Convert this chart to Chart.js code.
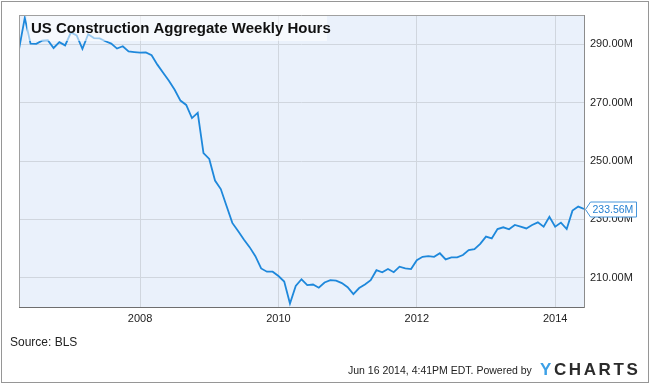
<!DOCTYPE html>
<html>
<head>
<meta charset="utf-8">
<script src="https://cdn.jsdelivr.net/npm/chart.js@4"></script>
<style>
html,body{margin:0;padding:0;background:#fff;}
#wrap{width:650px;height:384px;position:relative;}
</style>
</head>
<body>
<div id="wrap"><canvas id="c" width="650" height="384"></canvas></div>
<script>
const titleText = 'US Construction Aggregate Weekly Hours';
const sourceText = 'Source: BLS';
const footerText = 'Jun 16 2014, 4:41PM EDT. Powered by';
const lastLabel = '233.56M';

const months = [
  '2006-03','2006-04','2006-05','2006-06','2006-07','2006-08','2006-09','2006-10','2006-11','2006-12',
  '2007-01','2007-02','2007-03','2007-04','2007-05','2007-06','2007-07','2007-08','2007-09','2007-10','2007-11','2007-12',
  '2008-01','2008-02','2008-03','2008-04','2008-05','2008-06','2008-07','2008-08','2008-09','2008-10','2008-11','2008-12',
  '2009-01','2009-02','2009-03','2009-04','2009-05','2009-06','2009-07','2009-08','2009-09','2009-10','2009-11','2009-12',
  '2010-01','2010-02','2010-03','2010-04','2010-05','2010-06','2010-07','2010-08','2010-09','2010-10','2010-11','2010-12',
  '2011-01','2011-02','2011-03','2011-04','2011-05','2011-06','2011-07','2011-08','2011-09','2011-10','2011-11','2011-12',
  '2012-01','2012-02','2012-03','2012-04','2012-05','2012-06','2012-07','2012-08','2012-09','2012-10','2012-11','2012-12',
  '2013-01','2013-02','2013-03','2013-04','2013-05','2013-06','2013-07','2013-08','2013-09','2013-10','2013-11','2013-12',
  '2014-01','2014-02','2014-03','2014-04','2014-05'
];

const hours = [
  288.2,299.0,290.2,290.1,291.2,291.4,288.7,290.7,289.6,294.0,
  293.0,288.4,293.4,292.1,292.0,291.0,290.2,288.5,289.3,287.5,287.3,287.1,
  287.2,286.2,283.0,280.2,277.5,274.4,270.7,269.2,264.7,266.5,252.7,250.7,
  243.3,240.4,234.6,228.8,226.0,223.1,220.5,217.4,213.2,212.1,212.1,210.6,
  208.7,201.2,207.2,209.5,207.5,207.7,206.6,208.4,209.2,209.0,208.2,206.8,
  204.4,206.5,207.7,209.2,212.6,211.9,213.0,211.9,213.8,213.2,213.0,216.0,
  217.2,217.4,217.2,218.4,216.3,217.0,217.0,217.8,219.5,219.8,221.6,224.1,
  223.5,226.7,227.3,226.6,228.1,227.5,226.9,228.1,229.0,227.5,230.9,227.5,
  228.9,226.7,233.0,234.4,233.56
];

const yTicks = [210, 230, 250, 270, 290];
const xTicks = [2008, 2010, 2012, 2014];

// month label -> decimal year (end of month)
const xs = months.map(m => { const p = m.split('-'); return parseInt(p[0]) + parseInt(p[1]) / 12; });
const points = xs.map((x, i) => ({ x: x, y: hours[i] }));

const FONT = '"Liberation Sans", Arial, sans-serif';
const LINE = 'rgb(30,136,219)';

const decor = {
  id: 'decor',
  beforeDraw(chart) {
    const ctx = chart.ctx, a = chart.chartArea;
    ctx.save();
    ctx.fillStyle = '#fff';
    ctx.fillRect(0, 0, chart.width, chart.height);
    ctx.fillStyle = 'rgb(234,241,251)';
    ctx.fillRect(a.left, a.top, a.right - a.left, a.bottom - a.top);
    ctx.strokeStyle = 'rgb(150,150,150)';
    ctx.lineWidth = 1;
    ctx.strokeRect(1.5, 1.5, chart.width - 3, chart.height - 3);
    ctx.restore();
  },
  afterDatasetsDraw(chart) {
    const ctx = chart.ctx, a = chart.chartArea;
    ctx.save();
    ctx.strokeStyle = 'rgb(160,160,160)';
    ctx.lineWidth = 1;
    ctx.beginPath();
    ctx.moveTo(a.left + 0.5, a.top);
    ctx.lineTo(a.left + 0.5, a.bottom);
    ctx.moveTo(a.left, a.top + 0.5);
    ctx.lineTo(a.right, a.top + 0.5);
    ctx.stroke();
    // title with translucent backdrop
    ctx.fillStyle = 'rgba(255,255,255,0.55)';
    ctx.fillRect(27, a.top + 1, 300, 25);
    ctx.fillStyle = '#111';
    ctx.font = 'bold 15px ' + FONT;
    ctx.textBaseline = 'middle';
    ctx.textAlign = 'left';
    ctx.fillText(titleText, 31, 29);
    // last value callout
    const ys = chart.scales.y;
    const yv = ys.getPixelForValue(hours[hours.length - 1]);
    const bx = 590, bw = 46, bh = 15;
    ctx.beginPath();
    ctx.moveTo(585.5, yv + 0.5);
    ctx.lineTo(bx + 0.5, yv - bh / 2 + 0.5);
    ctx.lineTo(bx + bw + 0.5, yv - bh / 2 + 0.5);
    ctx.lineTo(bx + bw + 0.5, yv + bh / 2 + 0.5);
    ctx.lineTo(bx + 0.5, yv + bh / 2 + 0.5);
    ctx.closePath();
    ctx.fillStyle = '#fff';
    ctx.fill();
    ctx.strokeStyle = 'rgb(70,150,220)';
    ctx.stroke();
    ctx.fillStyle = 'rgb(40,130,210)';
    ctx.font = '10.5px ' + FONT;
    ctx.fillText(lastLabel, bx + 2.5, yv + 1);
    ctx.restore();
  },
  afterDraw(chart) {
    const ctx = chart.ctx;
    ctx.save();
    ctx.textBaseline = 'middle';
    ctx.textAlign = 'left';
    ctx.fillStyle = '#222';
    ctx.font = '12px ' + FONT;
    ctx.fillText(sourceText, 10, 343);
    ctx.font = '10.5px ' + FONT;
    ctx.fillText(footerText, 348, 371);
    // YCHARTS logo
    ctx.font = 'bold 17px ' + FONT;
    const letters = ['Y','C','H','A','R','T','S'];
    let x = 540;
    letters.forEach((ch, i) => {
      ctx.fillStyle = i === 0 ? 'rgb(60,160,230)' : '#2b2b2b';
      ctx.fillText(ch, x, 370);
      x += ctx.measureText(ch).width + 2.6;
    });
    ctx.restore();
  }
};

new Chart(document.getElementById('c'), {
  type: 'line',
  data: {
    datasets: [{
      data: points,
      borderColor: LINE,
      borderWidth: 1.8,
      pointRadius: 0,
      tension: 0,
      fill: false
    }]
  },
  options: {
    responsive: false,
    animation: false,
    devicePixelRatio: 1,
    layout: { padding: { left: 19, top: 15, right: 0, bottom: 0 } },
    plugins: { legend: { display: false }, tooltip: { enabled: false }, title: { display: false } },
    scales: {
      x: {
        type: 'linear',
        min: xs[0],
        max: xs[xs.length - 1],
        afterBuildTicks: s => { s.ticks = xTicks.map(v => ({ value: v })); },
        afterFit: s => { s.height = 77; },
        grid: { color: 'rgb(208,214,222)', drawTicks: false },
        border: { color: 'rgb(110,110,110)', width: 1 },
        ticks: { padding: 5, color: '#222', font: { family: FONT, size: 11 }, callback: v => String(v), maxRotation: 0 }
      },
      y: {
        position: 'right',
        min: 200,
        max: 300,
        afterBuildTicks: s => { s.ticks = yTicks.map(v => ({ value: v })); },
        afterFit: s => { s.width = 66; },
        grid: { color: 'rgb(208,214,222)', drawTicks: false },
        border: { color: 'rgb(140,140,140)', width: 1 },
        ticks: { padding: 6, color: '#222', font: { family: FONT, size: 11 }, callback: v => v.toFixed(2) + 'M' }
      }
    }
  },
  plugins: [decor]
});
</script>
</body>
</html>
